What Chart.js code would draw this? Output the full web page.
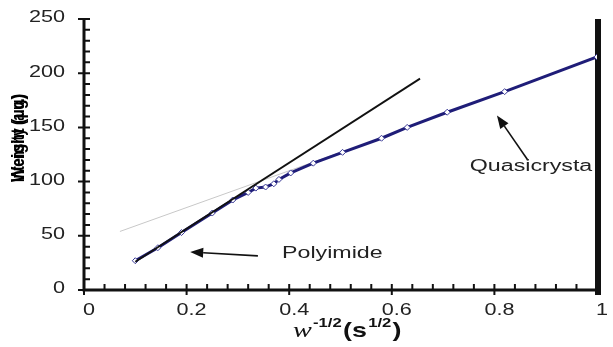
<!DOCTYPE html>
<html>
<head>
<meta charset="utf-8">
<script src="https://cdn.jsdelivr.net/npm/chart.js@4.4.0/dist/chart.umd.min.js"></script>
<style>
  html, body { margin: 0; padding: 0; background: #fff; }
  #wrap { width: 613px; height: 347px; }
</style>
</head>
<body>
<div id="wrap"><canvas id="chart" width="613" height="347"></canvas></div>
<script>
// values
const quasiX = [0.1, 0.144, 0.19, 0.25, 0.29, 0.32, 0.335, 0.354, 0.37, 0.38, 0.403, 0.447, 0.504, 0.58, 0.63, 0.708, 0.82, 1.0];
const quasiY = [27, 39, 53, 71, 83, 90, 94, 95, 98, 102, 108, 117, 127, 140, 150, 164, 183, 215];
const polyX = [0.1, 0.655];
const polyY = [26, 195];
const greyX = [0.07, 0.5];
const greyY = [54, 127];
const xTicks = [0, 0.2, 0.4, 0.6, 0.8, 1];
const xTickLabels = ['0', '0.2', '0.4', '0.6', '0.8', '1'];
const yTicks = [0, 50, 100, 150, 200, 250];
const yTickLabels = ['0', '50', '100', '150', '200', '250'];
const notes = [
  { text: 'Polyimide', x: 0.386, y: 34, fromX: 0.339, fromY: 31.5, toX: 0.207, toY: 35 },
  { text: 'Quasicrysta', x: 0.752, y: 114, fromX: 0.865, fromY: 120, toX: 0.805, toY: 161 }
];

const toPts = (xs, ys) => xs.map((x, i) => ({ x: x, y: ys[i] }));
const TXT = '#222';

// draws text stretched horizontally like the original picture
function wideText(ctx, str, x, y, align, font, stretch) {
  ctx.save();
  ctx.font = font;
  ctx.textBaseline = 'middle';
  const w = ctx.measureText(str).width * stretch;
  let left = x;
  if (align === 'center') left = x - w / 2;
  if (align === 'right') left = x - w;
  ctx.translate(left, y);
  ctx.scale(stretch, 1);
  ctx.textAlign = 'left';
  ctx.fillText(str, 0, 0);
  ctx.restore();
}

function arrow(ctx, x1, y1, x2, y2) {
  const a = Math.atan2(y2 - y1, x2 - x1);
  const len = 13, half = 5;
  const bx = x2 - len * Math.cos(a), by = y2 - len * Math.sin(a);
  ctx.save();
  ctx.strokeStyle = '#111';
  ctx.fillStyle = '#111';
  ctx.lineWidth = 1.6;
  ctx.beginPath();
  ctx.moveTo(x1, y1);
  ctx.lineTo(bx, by);
  ctx.stroke();
  ctx.beginPath();
  ctx.moveTo(x2, y2);
  ctx.lineTo(bx + half * Math.sin(a), by - half * Math.cos(a));
  ctx.lineTo(bx - half * Math.sin(a), by + half * Math.cos(a));
  ctx.closePath();
  ctx.fill();
  ctx.restore();
}

const axesPlugin = {
  id: 'axesPlugin',
  beforeDatasetsDraw(chart) {
    // thick bar on the right at x = 1, under the data
    const ctx = chart.ctx;
    const xs = chart.scales.x, ys = chart.scales.y;
    const x1 = xs.getPixelForValue(1);
    const y0 = ys.getPixelForValue(0), yTop = ys.getPixelForValue(250);
    ctx.save();
    ctx.fillStyle = '#111';
    ctx.fillRect(x1 - 2, yTop, 6, y0 - yTop + 5);
    ctx.restore();
  },
  afterDatasetsDraw(chart) {
    const ctx = chart.ctx;
    const xs = chart.scales.x, ys = chart.scales.y;
    const x0 = xs.getPixelForValue(0), x1 = xs.getPixelForValue(1);
    const y0 = ys.getPixelForValue(0), yTop = ys.getPixelForValue(250);

    ctx.save();
    ctx.strokeStyle = '#111';
    ctx.fillStyle = '#111';

    // axis lines
    ctx.lineWidth = 3;
    ctx.beginPath();
    ctx.moveTo(x0, yTop);
    ctx.lineTo(x0, y0 + 1.5);
    ctx.moveTo(x0 - 1.5, y0);
    ctx.lineTo(x1, y0);
    ctx.stroke();

    // minor ticks (inside)
    ctx.lineWidth = 2;
    ctx.beginPath();
    for (let v = 10; v < 250; v += 10) {
      const p = ys.getPixelForValue(v);
      ctx.moveTo(x0, p);
      ctx.lineTo(x0 + 6, p);
    }
    for (let k = 1; k < 25; k++) {
      const p = xs.getPixelForValue(k * 0.04);
      ctx.moveTo(p, y0);
      ctx.lineTo(p, y0 - 6);
    }
    // major ticks (crossing)
    yTicks.forEach(v => {
      const p = ys.getPixelForValue(v);
      ctx.moveTo(x0 - 6, p);
      ctx.lineTo(x0 + 6, p);
    });
    xTicks.forEach(v => {
      const p = xs.getPixelForValue(v);
      ctx.moveTo(p, y0 - 6);
      ctx.lineTo(p, y0 + 5);
    });
    ctx.stroke();

    // tick labels
    ctx.fillStyle = TXT;
    const tickFont = '16px "Liberation Sans", Arial, sans-serif';
    yTicks.forEach((v, i) => {
      wideText(ctx, yTickLabels[i], x0 - 19, ys.getPixelForValue(v) - 1, 'right', tickFont, 1.35);
    });
    xTicks.forEach((v, i) => {
      wideText(ctx, xTickLabels[i], xs.getPixelForValue(v) + 5, y0 + 21, 'center', tickFont, 1.35);
    });

    // x axis title: w^-1/2 (s^1/2)
    ctx.save();
    ctx.translate(293, 337);
    ctx.scale(1.28, 1);
    let cx = 0;
    ctx.fillStyle = '#111';
    ctx.textBaseline = 'alphabetic';
    ctx.textAlign = 'left';
    ctx.font = 'italic 22px "Liberation Serif", "Times New Roman", serif';
    ctx.fillText('w', cx, 0);
    cx += ctx.measureText('w').width + 1;
    ctx.font = 'bold 13px "Liberation Sans", Arial, sans-serif';
    ctx.fillText('-1/2', cx, -10);
    cx += ctx.measureText('-1/2').width + 1;
    ctx.font = 'bold 21px "Liberation Sans", Arial, sans-serif';
    ctx.fillText('(s', cx, 0);
    cx += ctx.measureText('(s').width + 1;
    ctx.font = 'bold 13px "Liberation Sans", Arial, sans-serif';
    ctx.fillText('1/2', cx, -10);
    cx += ctx.measureText('1/2').width + 1;
    ctx.font = 'bold 21px "Liberation Sans", Arial, sans-serif';
    ctx.fillText(')', cx, 0);
    ctx.restore();

    // y axis title (two labels printed on top of each other)
    ctx.fillStyle = '#000';
    ['Intensity (a.u.)', 'Weight (\u00b5g)'].forEach(t => {
      ctx.save();
      ctx.translate(19, 138);
      ctx.rotate(-Math.PI / 2);
      ctx.font = 'bold 18px "Liberation Sans", Arial, sans-serif';
      const w = ctx.measureText(t).width;
      ctx.scale(88 / w, 1);
      ctx.textAlign = 'center';
      ctx.textBaseline = 'middle';
      ctx.fillText(t, 0, 0);
      ctx.restore();
    });

    // annotations
    ctx.fillStyle = TXT;
    notes.forEach(n => {
      arrow(ctx, xs.getPixelForValue(n.fromX), ys.getPixelForValue(n.fromY),
        xs.getPixelForValue(n.toX), ys.getPixelForValue(n.toY));
      wideText(ctx, n.text, xs.getPixelForValue(n.x), ys.getPixelForValue(n.y), 'left',
        '16px "Liberation Sans", Arial, sans-serif', 1.45);
    });
    ctx.restore();
  }
};

new Chart(document.getElementById('chart'), {
  type: 'scatter',
  data: {
    datasets: [
      {
        label: 'Polyimide',
        data: toPts(polyX, polyY),
        showLine: true,
        borderColor: '#111',
        borderWidth: 1.8,
        pointRadius: 0,
        order: 0
      },
      {
        label: 'Quasicrystal',
        data: toPts(quasiX, quasiY),
        showLine: true,
        borderColor: '#1f1d78',
        borderWidth: 3,
        pointStyle: 'rectRot',
        pointRadius: 3,
        pointBorderWidth: 1,
        pointBackgroundColor: '#fff',
        pointBorderColor: '#3a3a96',
        order: 1
      },
      {
        label: 'fit',
        data: toPts(greyX, greyY),
        showLine: true,
        borderColor: '#c8c8c8',
        borderWidth: 1,
        pointRadius: 0,
        order: 2
      }
    ]
  },
  options: {
    responsive: false,
    animation: false,
    layout: { padding: { left: 84, right: 16, top: 19, bottom: 57 } },
    plugins: {
      legend: { display: false },
      tooltip: { enabled: false }
    },
    scales: {
      x: { type: 'linear', display: false, min: 0, max: 1 },
      y: { type: 'linear', display: false, min: 0, max: 250 }
    }
  },
  plugins: [axesPlugin]
});
</script>
</body>
</html>
